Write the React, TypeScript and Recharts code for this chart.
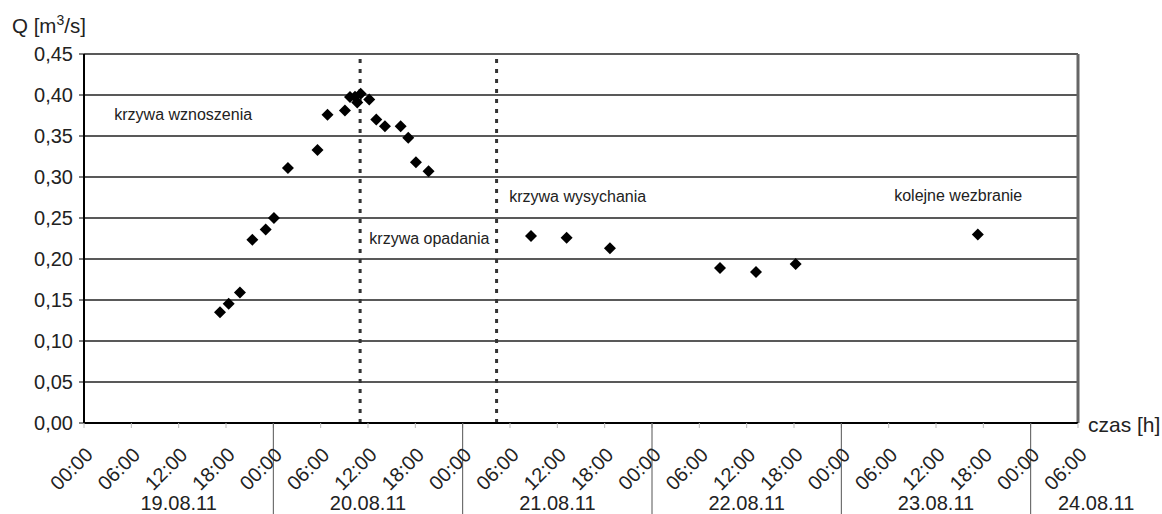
import React from "react";
import {
  ScatterChart,
  Scatter,
  XAxis,
  YAxis,
  CartesianGrid,
  ReferenceLine,
  ReferenceDot,
} from "recharts";

// hours counted from 19.08.11 00:00
const hours = [
  17.24, 18.34, 19.77, 21.34, 23.03, 24.08, 25.85, 29.6, 30.87, 33.08, 33.72,
  34.35, 34.64, 35.07, 36.16, 37.05, 38.15, 40.14, 41.1, 42.08, 43.68, 56.66,
  61.18, 66.67, 80.62, 85.18, 90.21, 113.3,
];
const flows = [
  0.135, 0.1455, 0.159, 0.2235, 0.236, 0.25, 0.311, 0.333, 0.376, 0.381, 0.3975,
  0.398, 0.391, 0.4015, 0.3946, 0.37, 0.362, 0.362, 0.348, 0.318, 0.307, 0.228,
  0.226, 0.213, 0.189, 0.184, 0.194, 0.23,
];

const xTicks = [
  0, 6, 12, 18, 24, 30, 36, 42, 48, 54, 60, 66, 72, 78, 84, 90, 96, 102, 108,
  114, 120, 126,
];
const timeLabels = ["00:00", "06:00", "12:00", "18:00"];
const yTicks = [0, 0.05, 0.1, 0.15, 0.2, 0.25, 0.3, 0.35, 0.4, 0.45];
const dayLabels = ["19.08.11", "20.08.11", "21.08.11", "22.08.11", "23.08.11", "24.08.11"];
const dayLabelHours = [12, 36, 60, 84, 108, 128.3];
const phaseLines = [35, 52.3];
const annotations = [
  { text: "krzywa wznoszenia", h: 3.84, q: 0.37 },
  { text: "krzywa opadania", h: 36.17, q: 0.2187 },
  { text: "krzywa wysychania", h: 53.9, q: 0.2694 },
  { text: "kolejne wezbranie", h: 102.7, q: 0.2706 },
];

const FONT = "'Liberation Sans', Arial, sans-serif";
const data = hours.map((h, i) => ({ h, q: flows[i] }));
const allXTicks = Array.from(new Set([...xTicks, ...dayLabelHours])).sort((a, b) => a - b);

function Diamond(props: any) {
  const { cx, cy } = props;
  const r = 6;
  return (
    <path
      d={`M${cx},${cy - r}L${cx + r},${cy}L${cx},${cy + r}L${cx - r},${cy}Z`}
      fill="#000"
    />
  );
}

function TimeTick(props: any) {
  const { x, y, payload } = props;
  const h = payload.value;
  const isTime = xTicks.includes(h);
  const dayIdx = dayLabelHours.indexOf(h);
  return (
    <g>
      {isTime && <line x1={x} y1={y} x2={x} y2={y + 5} stroke="#bbb" />}
      {isTime && h % 24 === 0 && h > 0 && (
        <line x1={x} y1={y} x2={x} y2={y + 91} stroke="#555" />
      )}
      {isTime && (
        <text
          x={x + 10}
          y={y + 33}
          transform={`rotate(-45, ${x + 10}, ${y + 33})`}
          textAnchor="end"
          fontSize={20}
          fill="#222"
          fontFamily={FONT}
        >
          {timeLabels[(h % 24) / 6]}
        </text>
      )}
      {dayIdx >= 0 && (
        <text x={x} y={y + 87} textAnchor="middle" fontSize={20} fill="#222" fontFamily={FONT}>
          {dayLabels[dayIdx]}
        </text>
      )}
    </g>
  );
}

function YTitle(props: any) {
  const vb = props.viewBox;
  return (
    <text x={vb.x + 12} y={vb.y - 21} fontSize={20.5} fill="#222" fontFamily={FONT}>
      Q [m
      <tspan fontSize={14} dy={-8}>
        3
      </tspan>
      <tspan dy={8}>/s]</tspan>
    </text>
  );
}

function XTitle(props: any) {
  const vb = props.viewBox;
  return (
    <text x={vb.x + vb.width + 10} y={vb.y + 9} fontSize={21} fill="#222" fontFamily={FONT}>
      czas [h]
    </text>
  );
}

function annotationShape(text: string) {
  return (props: any) => (
    <text x={props.cx} y={props.cy} fontSize={16} fill="#222" fontFamily={FONT}>
      {text}
    </text>
  );
}

export default function App() {
  return (
    <div style={{ position: "absolute", left: 0, top: 0, background: "#fff" }}>
      <ScatterChart width={1162} height={514} margin={{ top: 54, right: 84, bottom: 0, left: 0 }}>
        <CartesianGrid vertical={false} stroke="#222" strokeWidth={1.5} />
        <XAxis
          type="number"
          dataKey="h"
          domain={[0, 126]}
          ticks={allXTicks}
          interval={0}
          height={91}
          tickSize={0}
          tickMargin={0}
          tickLine={false}
          axisLine={{ stroke: "#000", strokeWidth: 2 }}
          tick={<TimeTick />}
          label={<XTitle />}
        />
        <YAxis
          type="number"
          dataKey="q"
          domain={[0, 0.45]}
          ticks={yTicks}
          interval={0}
          width={84}
          tickSize={5}
          tickMargin={6}
          axisLine={{ stroke: "#000", strokeWidth: 2 }}
          tickLine={{ stroke: "#000" }}
          tick={{ fontSize: 20, fill: "#222", fontFamily: FONT }}
          tickFormatter={(v: number) => v.toFixed(2).replace(".", ",")}
          label={<YTitle />}
        />
        <ReferenceLine x={126} stroke="#666" strokeWidth={3} />
        {phaseLines.map((h) => (
          <ReferenceLine key={h} x={h} stroke="#333" strokeWidth={3} strokeDasharray="4 6" />
        ))}
        {annotations.map((a) => (
          <ReferenceDot key={a.text} x={a.h} y={a.q} r={0} shape={annotationShape(a.text)} />
        ))}
        <Scatter data={data} dataKey="q" shape={Diamond} isAnimationActive={false} />
      </ScatterChart>
    </div>
  );
}
